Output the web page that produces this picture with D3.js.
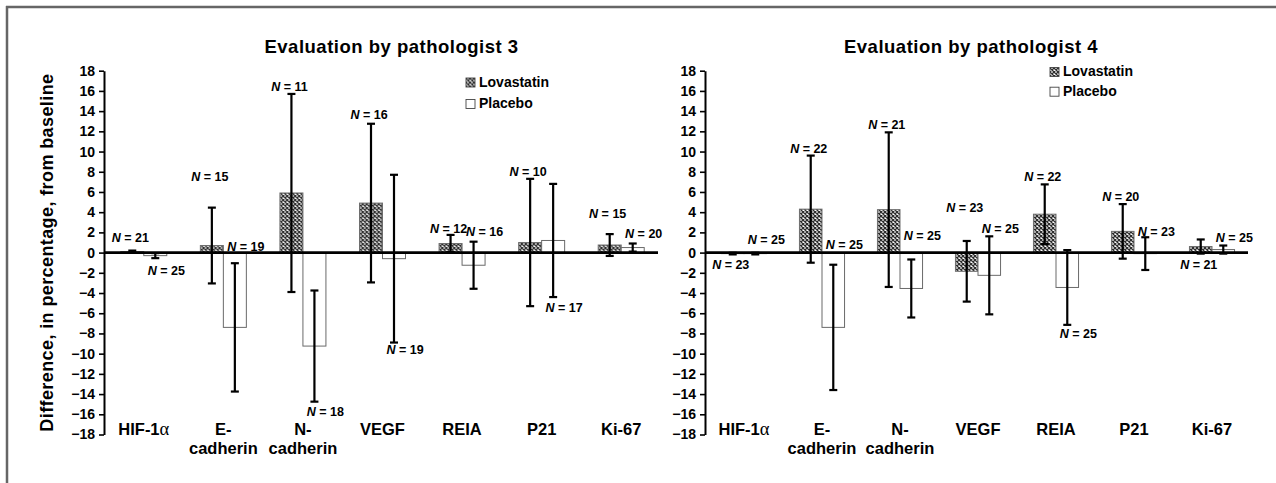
<!DOCTYPE html>
<html>
<head>
<meta charset="utf-8">
<script src="https://cdn.jsdelivr.net/npm/d3@7"></script>
<style>
  body { margin: 0; background: #fff; }
  svg { display: block; font-family: "Liberation Sans", Arial, sans-serif; }
</style>
</head>
<body>
<svg width="1276" height="483"></svg>
<script>
// categories and their label lines
const categories = ['HIF-1α', 'E-cadherin', 'N-cadherin', 'VEGF', 'REIA', 'P21', 'Ki-67'];
const categoryLines = [['HIF-1', 'α'], ['E-', 'cadherin'], ['N-', 'cadherin'], ['VEGF'], ['REIA'], ['P21'], ['Ki-67']];
const yTicks = d3.range(-18, 19, 2);

// pathologist 3
const lovMean3 = [0.1, 0.7, 5.9, 4.9, 0.9, 1.0, 0.75];
const lovErr3  = [0.1, 3.75, 9.8, 7.85, 0.85, 6.3, 1.08];
const plaMean3 = [-0.3, -7.4, -9.25, -0.6, -1.25, 1.2, 0.5];
const plaErr3  = [0.25, 6.35, 5.5, 8.3, 2.33, 5.6, 0.4];
const lovN3 = [21, 15, 11, 16, 12, 10, 15];
const plaN3 = [25, 19, 18, 19, 16, 17, 20];
const lovNy3 = [1.47, 7.5, 16.4, 13.7, 2.4, 8.0, 3.9];   // label height, in data units
const plaNy3 = [-1.73, 0.64, -15.7, -9.58, 2.13, -5.47, 1.93];

// pathologist 4
const lovMean4 = [-0.1, 4.3, 4.25, -1.85, 3.8, 2.1, 0.6];
const lovErr4  = [0.08, 5.3, 7.65, 3.0, 2.95, 2.7, 0.7];
const plaMean4 = [-0.1, -7.4, -3.55, -2.25, -3.45, -0.1, 0.3];
const plaErr4  = [0.08, 6.2, 2.87, 3.86, 3.7, 1.62, 0.4];
const lovN4 = [23, 22, 21, 23, 22, 20, 21];
const plaN4 = [25, 25, 25, 25, 25, 23, 25];
const lovNy4 = [-1.14, 10.3, 12.7, 4.48, 7.57, 5.52, -1.14];
const plaNy4 = [1.31, 0.81, 1.73, 2.4, -8.0, 2.13, 1.5];

const seriesNames = ['Lovastatin', 'Placebo'];

const svg = d3.select('svg');

// pattern for lovastatin bars
const pat = svg.append('defs').append('pattern')
    .attr('id', 'hatch').attr('patternUnits', 'userSpaceOnUse')
    .attr('width', 4).attr('height', 4);
pat.append('rect').attr('width', 4).attr('height', 4).attr('fill', '#fff');
pat.append('path').attr('d', 'M0,0L4,4M4,0L0,4')
    .attr('stroke', '#2e2e2e').attr('stroke-width', 1.3);

// frame
svg.append('line').attr('x1', 6).attr('x2', 1276).attr('y1', 7).attr('y2', 7)
    .attr('stroke', '#666').attr('stroke-width', 2.5);
svg.append('line').attr('x1', 7).attr('x2', 7).attr('y1', 6).attr('y2', 483)
    .attr('stroke', '#666').attr('stroke-width', 2.5);

const y = d3.scaleLinear().domain([-18, 18]).range([434.5, 70.7]);

const panels = [
    {title: 'Evaluation by pathologist 3', x0: 104, x1: 661, titleShift: 9, yTitle: true,
     legend: {x: 466, y0: 86.5, step: 21.5},
     lov: lovMean3, lovE: lovErr3, pla: plaMean3, plaE: plaErr3,
     lovN: lovN3, plaN: plaN3, lovNy: lovNy3, plaNy: plaNy3},
    {title: 'Evaluation by pathologist 4', x0: 705, x1: 1251, titleShift: -7, yTitle: false,
     legend: {x: 1050, y0: 76, step: 19.7},
     lov: lovMean4, lovE: lovErr4, pla: plaMean4, plaE: plaErr4,
     lovN: lovN4, plaN: plaN4, lovNy: lovNy4, plaNy: plaNy4}
];

panels.forEach(p => {
    const g = svg.append('g');
    const x = d3.scaleBand().domain(categories).range([p.x0, p.x1]);
    const xs = d3.scaleBand().domain(seriesNames).range([0, x.bandwidth()]).paddingOuter(0.73);
    const bw = xs.bandwidth();

    // title
    g.append('text')
        .attr('x', (p.x0 + p.x1) / 2 + p.titleShift).attr('y', 53)
        .attr('text-anchor', 'middle')
        .attr('font-size', 18.5).attr('font-weight', 'bold').attr('letter-spacing', 0.5)
        .text(p.title);

    // axis
    const ax = g.append('g').attr('transform', `translate(${p.x0},0)`)
        .call(d3.axisLeft(y).tickValues(yTicks).tickSize(5).tickSizeOuter(0).tickPadding(4)
            .tickFormat(d => d < 0 ? '\u2212' + Math.abs(d) : d));
    ax.select('.domain').attr('stroke-width', 2);
    ax.selectAll('.tick line').attr('stroke-width', 1.6);
    ax.selectAll('.tick text').attr('font-size', 14).attr('font-weight', 'bold')
        .attr('font-family', '"Liberation Sans", Arial, sans-serif').attr('fill', '#000');

    if (p.yTitle) {
        g.append('text')
            .attr('transform', `translate(53,${(y(18) + y(-18)) / 2}) rotate(-90)`)
            .attr('text-anchor', 'middle')
            .attr('font-size', 18).attr('font-weight', 'bold').attr('letter-spacing', 0.4)
            .text('Difference, in percentage, from baseline');
    }

    const rows = categories.map((c, i) => ({
        c, i,
        s: [
            {name: 'Lovastatin', m: p.lov[i], e: p.lovE[i], n: p.lovN[i], ny: p.lovNy[i]},
            {name: 'Placebo', m: p.pla[i], e: p.plaE[i], n: p.plaN[i], ny: p.plaNy[i]}
        ]
    }));

    const groups = g.selectAll('g.cat').data(rows).join('g')
        .attr('class', 'cat')
        .attr('transform', d => `translate(${x(d.c)},0)`);

    // bars
    groups.selectAll('rect').data(d => d.s).join('rect')
        .attr('x', d => xs(d.name))
        .attr('width', bw)
        .attr('y', d => y(Math.max(0, d.m)))
        .attr('height', d => Math.abs(y(d.m) - y(0)))
        .attr('fill', d => d.name === 'Lovastatin' ? 'url(#hatch)' : '#fff')
        .attr('stroke', d => d.name === 'Lovastatin' ? '#6e6e6e' : '#6a6a6a')
        .attr('stroke-width', 1);

    // zero line
    g.append('line')
        .attr('x1', p.x0).attr('x2', p.x1 - 3)
        .attr('y1', y(0)).attr('y2', y(0))
        .attr('stroke', '#000').attr('stroke-width', 2.6);

    // error bars
    const eb = groups.selectAll('g.err').data(d => d.s).join('g')
        .attr('class', 'err')
        .attr('transform', d => `translate(${xs(d.name) + bw / 2},0)`);
    eb.append('line')
        .attr('y1', d => y(d.m + d.e)).attr('y2', d => y(d.m - d.e))
        .attr('stroke', '#000').attr('stroke-width', 2.2);
    eb.selectAll('line.cap').data(d => [d.m + d.e, d.m - d.e]).join('line')
        .attr('class', 'cap')
        .attr('x1', -4).attr('x2', 4)
        .attr('y1', v => y(v)).attr('y2', v => y(v))
        .attr('stroke', '#000').attr('stroke-width', 2.2);

    // N labels
    const nl = groups.selectAll('text.n').data(d => d.s).join('text')
        .attr('class', 'n')
        .attr('x', d => xs(d.name) + bw / 2 + (d.name === 'Placebo' ? 11 : -2))
        .attr('y', d => y(d.ny) + 4.5)
        .attr('text-anchor', 'middle')
        .attr('font-size', 12.5).attr('font-weight', 'bold');
    nl.append('tspan').attr('font-style', 'italic').text('N');
    nl.append('tspan').text(d => ' = ' + d.n);

    // category labels
    const cl = groups.append('text')
        .attr('x', x.bandwidth() / 2)
        .attr('y', 434.5)
        .attr('text-anchor', 'middle')
        .attr('font-size', 16.5).attr('font-weight', 'bold');
    cl.each(function(d) {
        const lines = categoryLines[d.i];
        const t = d3.select(this);
        if (lines[1] === 'α') {
            t.append('tspan').text(lines[0]);
            t.append('tspan').attr('font-family', '"Liberation Serif", serif')
                .attr('font-weight', 'normal').attr('font-size', 18.5).text(lines[1]);
        } else {
            lines.forEach((l, k) => {
                t.append('tspan').attr('x', x.bandwidth() / 2).attr('dy', k ? 19.5 : 0).text(l);
            });
        }
    });

    // legend
    const lg = g.selectAll('g.leg').data(seriesNames).join('g')
        .attr('class', 'leg')
        .attr('transform', (d, i) => `translate(${p.legend.x},${p.legend.y0 + i * p.legend.step})`);
    lg.append('rect')
        .attr('x', 0).attr('y', -8.5).attr('width', 9).attr('height', 9)
        .attr('fill', d => d === 'Lovastatin' ? 'url(#hatch)' : '#fff')
        .attr('stroke', '#444').attr('stroke-width', 0.9);
    lg.append('text')
        .attr('x', 13).attr('y', 0)
        .attr('font-size', 14).attr('font-weight', 'bold')
        .text(d => d);
});
</script>
</body>
</html>
